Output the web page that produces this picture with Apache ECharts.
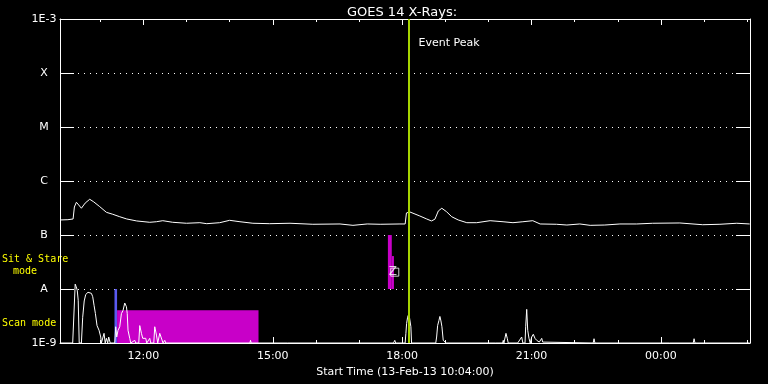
<!DOCTYPE html>
<html>
<head>
<meta charset="utf-8">
<script src="https://cdn.jsdelivr.net/npm/echarts@6/dist/echarts.min.js"></script>
<style>
html,body{margin:0;padding:0;background:#000;}
#chart{width:768px;height:384px;}
</style>
</head>
<body>
<div id="chart"></div>
<script>
// ---------- data ----------
const chartTitle = 'GOES 14 X-Rays:';
const xAxisName = 'Start Time (13-Feb-13 10:04:00)';
const xStart = 10 + 4 / 60;          // hours, 13-Feb 10:04
const xEnd = 26 + 4 / 60;            // hours, 14-Feb 02:04
const xLabelHours = [12, 15, 18, 21, 24];
const xMinorHours = [11, 12, 13, 14, 15, 16, 17, 18, 19, 20, 21, 22, 23, 24, 25, 26];
const yTickValues = [1e-9, 1e-8, 1e-7, 1e-6, 1e-5, 1e-4, 1e-3];
const yTickLabels = ['1E-9', 'A', 'B', 'C', 'M', 'X', '1E-3'];

// GOES 1-8 A flux (W/m^2)
const goesTimes = [10.08, 10.25, 10.37, 10.40, 10.447, 10.50, 10.563, 10.65, 10.756, 10.85, 10.988, 11.143, 11.29, 11.452,
  11.614, 11.846, 12.148, 12.30, 12.45, 12.68, 13.0, 13.31, 13.47, 13.77, 14.0, 14.24, 14.54, 14.93, 15.40, 15.93,
  16.56, 16.86, 17.19, 17.49, 17.95, 18.07, 18.10, 18.18, 18.41, 18.57, 18.68, 18.76, 18.84, 18.92, 19.03, 19.15,
  19.30, 19.50, 19.73, 20.04, 20.34, 20.57, 20.80, 21.03, 21.20, 21.58, 21.82, 22.12, 22.36, 22.70, 23.05, 23.44,
  23.81, 24.44, 24.97, 25.37, 25.76, 26.06];
const goesFlux = [1.90e-7, 1.92e-7, 1.98e-7, 3.3e-7, 4.04e-7, 3.6e-7, 3.13e-7, 3.9e-7, 4.59e-7, 4.1e-7, 3.35e-7, 2.63e-7, 2.42e-7, 2.18e-7,
  1.98e-7, 1.82e-7, 1.72e-7, 1.76e-7, 1.84e-7, 1.72e-7, 1.65e-7, 1.69e-7, 1.62e-7, 1.69e-7, 1.87e-7, 1.76e-7, 1.65e-7, 1.62e-7, 1.65e-7, 1.58e-7,
  1.60e-7, 1.51e-7, 1.60e-7, 1.58e-7, 1.60e-7, 1.60e-7, 2.56e-7, 2.67e-7, 2.25e-7, 1.98e-7, 1.82e-7, 1.96e-7, 2.79e-7, 3.13e-7, 2.70e-7, 2.18e-7,
  1.90e-7, 1.69e-7, 1.69e-7, 1.84e-7, 1.76e-7, 1.69e-7, 1.76e-7, 1.84e-7, 1.60e-7, 1.58e-7, 1.53e-7, 1.60e-7, 1.51e-7, 1.53e-7, 1.60e-7, 1.60e-7,
  1.65e-7, 1.67e-7, 1.55e-7, 1.58e-7, 1.65e-7, 1.60e-7];

// low-level spiky curve (plotted on the same scale)
const lowTimes = [10.08, 10.361, 10.391, 10.419, 10.443, 10.466, 10.489, 10.512, 10.563, 10.593, 10.628, 10.663, 10.716, 10.756,
  10.795, 10.825, 10.856, 10.888, 10.925, 10.972, 11.011, 11.027, 11.088, 11.115, 11.143, 11.173, 11.196, 11.231,
  11.336, 11.359, 11.382, 11.412, 11.452, 11.491, 11.528, 11.568, 11.607, 11.626, 11.644, 11.684, 11.707, 11.800,
  11.823, 11.893, 11.916, 11.955, 11.985, 12.055, 12.078, 12.148, 12.171, 12.241, 12.264, 12.303, 12.333, 12.380,
  12.419, 12.456, 12.496, 12.519, 14.47, 14.484, 14.50, 15.34, 15.356, 15.37, 17.80, 17.83, 17.85, 18.07, 18.087,
  18.104, 18.127, 18.157, 18.180, 18.203, 18.219, 18.78, 18.800, 18.823, 18.853, 18.876, 18.900, 18.923, 18.953,
  18.993, 19.016, 20.16, 20.175, 20.19, 20.33, 20.345, 20.36, 20.408, 20.438, 20.46, 20.68, 20.698, 20.72, 20.772,
  20.80, 20.833, 20.850, 20.865, 20.889, 20.912, 20.942, 20.97, 21.004, 21.042, 21.081, 21.121, 21.181, 21.21,
  21.237, 21.26, 21.28, 22.43, 22.45, 22.47, 24.20, 24.213, 24.23, 24.75, 24.77, 24.79, 25.79, 25.81, 25.83, 26.06];
const lowFlux = [1e-9, 1e-9, 1e-9, 1.23e-8, 1.1e-8, 9.5e-9, 6.2e-9, 1e-9, 1e-9, 3.0e-9, 6.0e-9, 7.9e-9, 8.7e-9, 8.5e-9,
  8.3e-9, 7.2e-9, 5.0e-9, 3.5e-9, 2.1e-9, 1.72e-9, 1.29e-9, 1e-9, 1.51e-9, 1e-9, 1.22e-9, 1e-9, 1.29e-9, 1e-9,
  1e-9, 2.0e-9, 1.29e-9, 1.72e-9, 2.0e-9, 3.5e-9, 4.0e-9, 5.5e-9, 4.7e-9, 3.5e-9, 1.72e-9, 1.22e-9, 1e-9, 1.12e-9,
  1e-9, 1e-9, 2.1e-9, 1.51e-9, 1.22e-9, 1.22e-9, 1e-9, 1.22e-9, 1e-9, 1e-9, 2.0e-9, 1.4e-9, 1e-9, 1.51e-9,
  1.51e-9, 1e-9, 1.12e-9, 1e-9, 1e-9, 1.12e-9, 1e-9, 1e-9, 1.04e-9, 1e-9, 1e-9, 1.12e-9, 1e-9, 1e-9, 1.5e-9,
  2.3e-9, 3.0e-9, 3.5e-9, 3.8e-9, 2.0e-9, 1e-9, 1e-9, 1.29e-9, 2.1e-9, 2.6e-9, 3.1e-9, 2.56e-9, 2.0e-9, 1.12e-9,
  1.15e-9, 1e-9, 1e-9, 1.08e-9, 1e-9, 1e-9, 1.12e-9, 1e-9, 1.51e-9, 1.22e-9, 1e-9, 1e-9, 1.04e-9, 1e-9, 1.29e-9,
  1e-9, 1.04e-9, 1e-9, 2.0e-9, 4.2e-9, 1.72e-9, 1.22e-9, 1e-9, 1.29e-9, 1.45e-9, 1.22e-9, 1.12e-9, 1.04e-9, 1e-9,
  1.22e-9, 1.04e-9, 1e-9, 1e-9, 1.2e-9, 1e-9, 1e-9, 1.04e-9, 1e-9, 1e-9, 1.2e-9, 1e-9, 1e-9, 1.04e-9, 1e-9, 1e-9];

// observation blocks: [start hour, end hour, low flux, high flux]
const obsStart = [11.33, 11.39, 17.67, 17.76];
const obsEnd = [11.39, 14.67, 17.76, 17.81];
const obsLow = [1e-9, 1e-9, 1e-8, 1e-8];
const obsHigh = [1e-8, 4.05e-9, 1e-7, 4.07e-8];
const obsColor = ['#5a5af0', '#c800c8', '#c800c8', '#c800c8'];

const eventPeakHour = 18.15;
const markerPoint = [17.83, 2.05e-8];

// ---------- chart ----------
const FONT = 'DejaVu Sans';
const chart = echarts.init(document.getElementById('chart'), null, { renderer: 'canvas' });

const goesData = goesTimes.map((t, i) => [t, goesFlux[i]]);
const lowData = lowTimes.map((t, i) => [t, lowFlux[i]]);
const obsData = obsStart.map((s, i) => ({ value: [s, obsEnd[i], obsLow[i], obsHigh[i]], itemStyle: { color: obsColor[i] } }));

function hourLabel(v) {
  const h = Math.round(v) % 24;
  return (h < 10 ? '0' : '') + h + ':00';
}
function yLabel(v) {
  const e = Math.round(Math.log10(v));
  const idx = yTickValues.findIndex(t => Math.round(Math.log10(t)) === e);
  return idx >= 0 ? yTickLabels[idx] : '';
}

const xBase = { type: 'value', min: xStart, max: xEnd, gridIndex: 0, splitLine: { show: false } };
const lineW = { lineStyle: { color: '#fff', width: 1 } };
const yellowFont = '10px "DejaVu Sans Mono"';

const option = {
  backgroundColor: '#000',
  animation: false,
  title: {
    text: chartTitle, left: 397, top: 1, textAlign: 'center',
    textStyle: { color: '#fff', fontFamily: FONT, fontSize: 13, fontWeight: 'normal' }
  },
  grid: { left: 60, right: 18, top: 19, bottom: 41, containLabel: false },
  xAxis: [
    Object.assign({}, xBase, {
      position: 'bottom',
      name: xAxisName, nameLocation: 'middle', nameGap: 20,
      nameTextStyle: { color: '#fff', fontFamily: FONT, fontSize: 11 },
      axisLine: Object.assign({ show: true, onZero: false }, lineW),
      axisTick: { show: true, inside: true, length: 6, customValues: xLabelHours, lineStyle: { color: '#fff' } },
      axisLabel: { show: true, color: '#fff', fontFamily: FONT, fontSize: 11, margin: 8, customValues: xLabelHours, formatter: hourLabel }
    }),
    Object.assign({}, xBase, {
      position: 'bottom',
      axisLine: { show: false, onZero: false },
      axisTick: { show: true, inside: true, length: 3, customValues: xMinorHours, lineStyle: { color: '#fff' } },
      axisLabel: { show: false }
    }),
    Object.assign({}, xBase, {
      position: 'top',
      axisLine: Object.assign({ show: true, onZero: false }, lineW),
      axisTick: { show: true, inside: true, length: 6, customValues: xLabelHours, lineStyle: { color: '#fff' } },
      axisLabel: { show: false }
    }),
    Object.assign({}, xBase, {
      position: 'top',
      axisLine: { show: false, onZero: false },
      axisTick: { show: true, inside: true, length: 3, customValues: xMinorHours, lineStyle: { color: '#fff' } },
      axisLabel: { show: false }
    })
  ],
  yAxis: [
    {
      type: 'log', logBase: 10, min: 1e-9, max: 1e-3, position: 'left', splitNumber: 6,
      axisLine: Object.assign({ show: true, onZero: false }, lineW),
      axisTick: { show: true, inside: true, length: 14, lineStyle: { color: '#fff' } },
      axisLabel: { show: true, color: '#fff', fontFamily: FONT, fontSize: 11, align: 'center', margin: 16, formatter: yLabel },
      splitLine: { show: true, lineStyle: { color: '#fff', width: 1, type: [1, 5] } },
      minorTick: { show: false }, minorSplitLine: { show: false }
    },
    {
      type: 'log', logBase: 10, min: 1e-9, max: 1e-3, position: 'right', splitNumber: 6,
      axisLine: Object.assign({ show: true, onZero: false }, lineW),
      axisTick: { show: true, inside: true, length: 14, lineStyle: { color: '#fff' } },
      axisLabel: { show: false },
      splitLine: { show: false }
    }
  ],
  graphic: [
    { type: 'text', x: 2, y: 259, style: { text: 'Sit & Stare', fill: '#ffff00', font: yellowFont, align: 'left', verticalAlign: 'middle' } },
    { type: 'text', x: 13, y: 271, style: { text: 'mode', fill: '#ffff00', font: yellowFont, align: 'left', verticalAlign: 'middle' } },
    { type: 'text', x: 2, y: 323.5, style: { text: 'Scan mode', fill: '#ffff00', font: yellowFont, align: 'left', verticalAlign: 'middle' } },
    { type: 'text', x: 449, y: 43, style: { text: 'Event Peak', fill: '#ffffff', font: '11px "DejaVu Sans"', align: 'center', verticalAlign: 'middle' } }
  ],
  series: [
    {
      type: 'custom', xAxisIndex: 0, yAxisIndex: 0, z: 2,
      encode: { x: [0, 1], y: [2, 3] },
      data: obsData,
      renderItem: function (params, api) {
        const p0 = api.coord([api.value(0), api.value(3)]);
        const p1 = api.coord([api.value(1), api.value(2)]);
        return {
          type: 'rect',
          shape: { x: p0[0], y: p0[1], width: p1[0] - p0[0], height: p1[1] - p0[1] },
          style: { fill: api.visual('color') }
        };
      }
    },
    {
      type: 'line', xAxisIndex: 0, yAxisIndex: 0, z: 3, data: lowData,
      showSymbol: false, symbol: 'none', lineStyle: { color: '#fff', width: 1 }
    },
    {
      type: 'line', xAxisIndex: 0, yAxisIndex: 0, z: 3, data: goesData,
      showSymbol: false, symbol: 'none', lineStyle: { color: '#fff', width: 1 }
    },
    {
      type: 'scatter', xAxisIndex: 0, yAxisIndex: 0, z: 4, data: [markerPoint],
      symbol: 'rect', symbolSize: 8,
      itemStyle: { color: 'rgba(0,0,0,0)', borderColor: '#fff', borderWidth: 1 },
      label: { show: true, formatter: 'Z', position: 'inside', offset: [-2, 0], color: '#fff', fontFamily: FONT, fontSize: 12 }
    },
    {
      type: 'line', xAxisIndex: 0, yAxisIndex: 0, z: 5, data: [],
      markLine: {
        silent: true, symbol: 'none', label: { show: false },
        lineStyle: { color: '#a6d400', width: 2, type: 'solid' },
        data: [{ xAxis: eventPeakHour }]
      }
    }
  ]
};
chart.setOption(option);
</script>
</body>
</html>
